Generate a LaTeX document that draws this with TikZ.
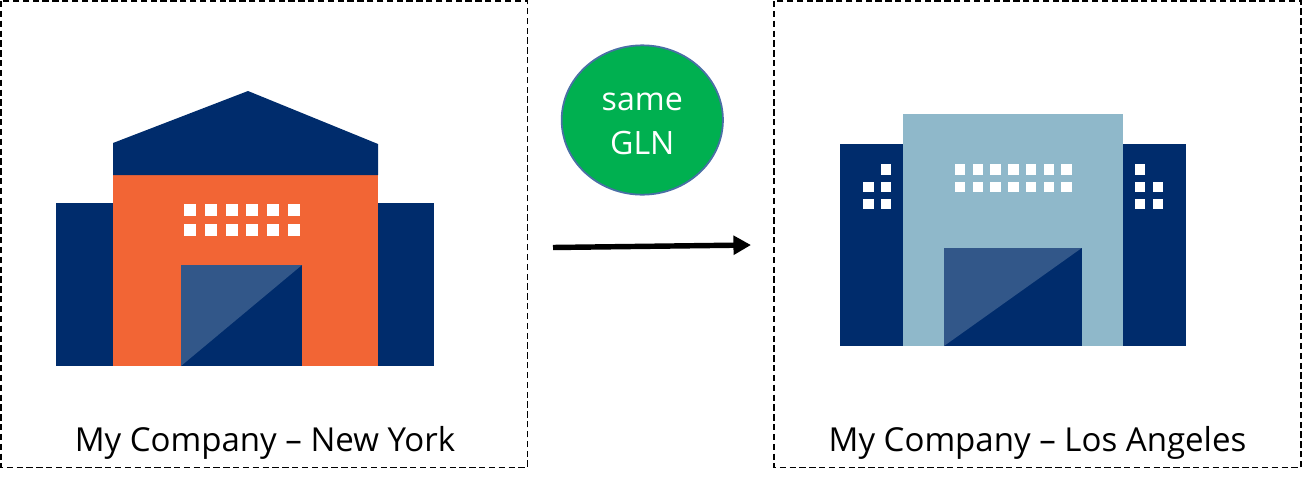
\documentclass[tikz,border=0pt]{standalone}
\usepackage{fontspec}
\setmainfont{Open Sans}
\usetikzlibrary{arrows.meta,shapes.geometric}
\definecolor{navyblue}{HTML}{002C6C}
\definecolor{doorblue}{HTML}{325789}
\definecolor{brickorange}{HTML}{F26535}
\definecolor{paleblue}{HTML}{8FB8CA}
\definecolor{glngreen}{HTML}{00B050}
\definecolor{glnedge}{HTML}{4A6FA5}
\tikzset{
	sitebox/.style={draw=black, line width=1.1pt, dash pattern=on 3.6pt off 2pt},
	sitelabel/.style={anchor=base, font=\fontsize{18.8}{22}\selectfont, text=black, inner sep=0pt},
	badgetext/.style={anchor=base, text=white, font=\fontsize{18.3}{20}\selectfont, inner sep=0pt},
	glnbadge/.style={draw=glnedge, fill=glngreen, line width=1pt, ellipse, minimum width=91.8pt, minimum height=85pt, inner sep=0pt}
}
\begin{document}
\begin{tikzpicture}[x=0.02cm, y=-0.02cm]
	\useasboundingbox (0,0) rectangle (1302,484);
	% Khung hai địa điểm
	\draw[sitebox] (1,1) rectangle (527.5,467.5);
	\draw[sitebox] (774,1) rectangle (1301,467.5);
	
	% Tòa nhà New York
	\fill[navyblue] (56,203) rectangle (434,366);
	\fill[brickorange] (113,175) rectangle (378,366);
	\fill[navyblue] (113,143) -- (248,91) -- (378,144) -- (378,175) -- (113,175) -- cycle;
	\fill[navyblue] (181,265) rectangle (302,366);
	\fill[doorblue] (181,265) -- (302,265) -- (181,366) -- cycle;
	\foreach \x in {0,...,5} {
		\foreach \y in {203.7,224.3} {
			\fill[white] (184.3+\x*20.7,\y) rectangle ++(12,12);
		}
	}
	
	% Tòa nhà Los Angeles
	\fill[navyblue] (840,143.7) rectangle (1186,346);
	\fill[paleblue] (902.7,114) rectangle (1123,346);
	\fill[navyblue] (944,248) rectangle (1081.7,346);
	\fill[doorblue] (944,248) -- (1081.7,248) -- (944,346) -- cycle;
	\foreach \x in {0,...,6} {
		\foreach \y in {164.3,181.7} {
			\fill[white] (955+\x*17.7,\y) rectangle ++(10.4,10.4);
		}
	}
	% Cửa sổ hai bên
	\foreach \x/\y in {880.7/164.3, 863.3/181.7, 880.7/181.7, 863.3/199, 880.7/199, 1134.7/164.3, 1134.7/181.7, 1152.7/181.7, 1134.7/199, 1152.7/199} {
		\fill[white] (\x,\y) rectangle ++(10.4,10.4);
	}
	
	% Nhãn địa điểm
	\node[sitelabel] (labelNY) at (265,451) {My Company – New York};
	\node[sitelabel] (labelLA) at (1037.5,451) {My Company – Los Angeles};
	
	% Huy hiệu GLN
	\node[glnbadge] (badge) at (642.3,120) {};
	\node[badgetext] (badgeTop) at (642.3,110) {same};
	\node[badgetext] (badgeBottom) at (642.3,154) {GLN};
	
	% Mũi tên giữa hai địa điểm
	\coordinate (arrowStart) at (553,247.5);
	\coordinate (arrowEnd) at (751,245);
	\draw[-{Triangle[length=10pt, width=10.5pt]}, line width=3.1pt, black] (arrowStart) -- (arrowEnd);
\end{tikzpicture}
\end{document}
